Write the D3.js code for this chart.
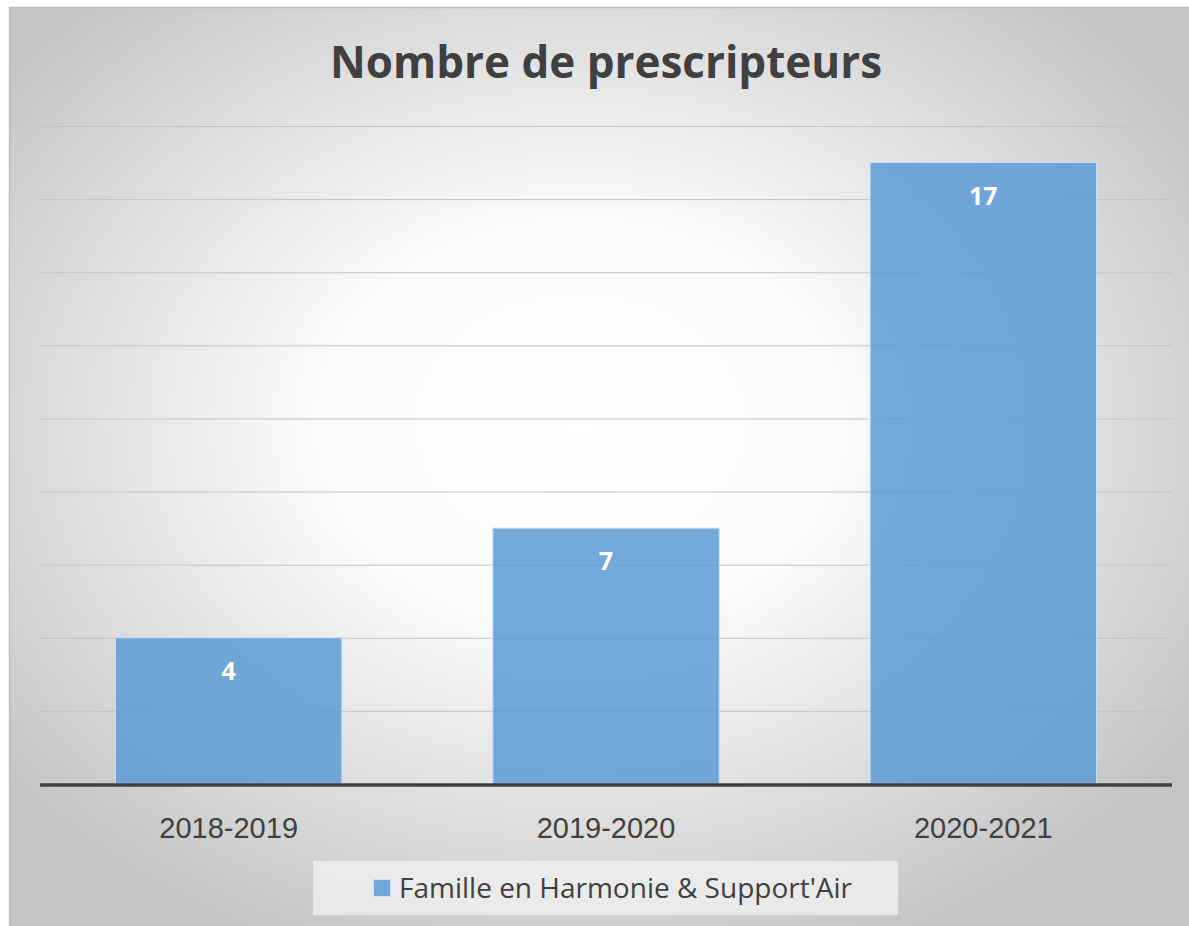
<!DOCTYPE html>
<html lang="fr">
<head>
  <meta charset="UTF-8">
  <title>Nombre de prescripteurs</title>
  <style>
  body { margin: 0; background: #fff; }
  svg { display: block; font-family: 'Open Sans', sans-serif; }
  .grid line { stroke: #c4c4c4; stroke-width: 1px; }
  .grid path { display: none; }
  .bar {
    fill: #5b9bd5;
    fill-opacity: 0.85;
    stroke: #c9dff3;
    stroke-width: 1px;
  }
  .x-axis path, .x-axis line { display: none; }
  .x-axis text { fill: #404040; font-size: 29px; }
  </style>
</head>
<body>
  <svg></svg>
  <script src="https://d3js.org/d3.v7.min.js"></script>
  <script>

  var categories = ['2018-2019', '2019-2020', '2020-2021'];
  var values = [4, 7, 17];
  var gridTicks = [2, 4, 6, 8, 10, 12, 14, 16, 18];
  var seriesName = "Famille en Harmonie & Support'Air";

  var width = 1189, height = 926;
  var svg = d3.select('svg').attr('width', width).attr('height', height);

  // radial background like the office chart style
  var defs = svg.append('defs');
  var grad = defs.append('radialGradient')
                 .attr('id', 'bg')
                 .attr('cx', '48%').attr('cy', '45%').attr('r', '62%');
  grad.append('stop').attr('offset', '0%').attr('stop-color', '#ffffff');
  grad.append('stop').attr('offset', '35%').attr('stop-color', '#fbfbfb');
  grad.append('stop').attr('offset', '100%').attr('stop-color', '#c4c4c4');

  svg.append('rect')
     .attr('x', 9.5).attr('y', 7.5)
     .attr('width', width).attr('height', height)
     .attr('fill', 'url(#bg)')
     .attr('stroke', '#bfbfbf')
     .attr('stroke-width', 1.5);

  var margin = { left: 40, right: 17, top: 126, bottom: 142 };
  var plotW = width - margin.left - margin.right;
  var plotH = height - margin.top - margin.bottom;

  var x = d3.scaleBand().domain(categories).range([0, plotW]).paddingInner(0.4).paddingOuter(0.2);
  var y = d3.scaleLinear().domain([0, 18]).range([plotH, 0]);

  var g = svg.append('g').attr('transform', 'translate(' + margin.left + ',' + margin.top + ')');

  g.append('g')
   .attr('class', 'grid')
   .call(d3.axisLeft(y).tickValues(gridTicks).tickSize(-plotW).tickFormat(''));

  g.selectAll('.bar')
   .data(values)
   .enter()
   .append('rect')
   .attr('class', 'bar')
   .attr('x', function (d, i) { return x(categories[i]); })
   .attr('y', function (d) { return y(d); })
   .attr('width', x.bandwidth())
   .attr('height', function (d) { return y(0) - y(d); });

  g.selectAll('.label')
   .data(values)
   .enter()
   .append('text')
   .attr('class', 'label')
   .attr('x', function (d, i) { return x(categories[i]) + x.bandwidth() / 2; })
   .attr('y', function (d) { return y(d) + 42; })
   .attr('text-anchor', 'middle')
   .attr('fill', '#fff')
   .attr('font-size', 25)
   .attr('font-weight', 'bold')
   .text(function (d) { return d; });

  // base line
  g.append('line')
   .attr('x1', 0).attr('x2', plotW)
   .attr('y1', y(0) + 1).attr('y2', y(0) + 1)
   .attr('stroke', '#404040')
   .attr('stroke-width', 3.5);

  g.append('g')
   .attr('class', 'x-axis')
   .attr('transform', 'translate(0,' + plotH + ')')
   .call(d3.axisBottom(x).tickSize(0).tickPadding(33));

  // title
  svg.append('text')
     .attr('x', 606).attr('y', 78)
     .attr('text-anchor', 'middle')
     .attr('fill', '#404040')
     .attr('font-size', 44)
     .attr('font-weight', 'bold')
     .text('Nombre de prescripteurs');

  // legend
  var legend = svg.append('g');
  legend.append('rect')
        .attr('x', 313).attr('y', 861)
        .attr('width', 585).attr('height', 54)
        .attr('fill', '#f2f2f2')
        .attr('fill-opacity', 0.75);
  legend.append('rect')
        .attr('x', 373.5).attr('y', 879.5)
        .attr('width', 17).attr('height', 17)
        .attr('fill', '#5b9bd5')
        .attr('fill-opacity', 0.85)
        .attr('stroke', '#c9dff3');
  legend.append('text')
        .attr('x', 399).attr('y', 898)
        .attr('fill', '#404040')
        .attr('font-size', 28)
        .text(seriesName);
  </script>
</body>
</html>
